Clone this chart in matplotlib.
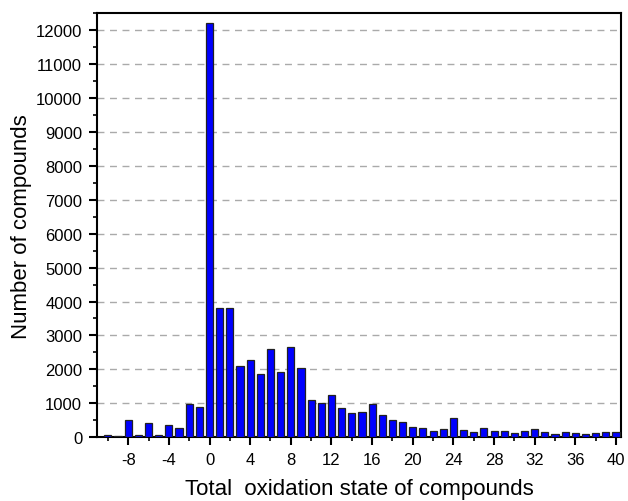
import matplotlib
matplotlib.use("Agg")
import matplotlib.pyplot as plt
from matplotlib.ticker import MultipleLocator

plt.rcParams['font.family'] = ['Liberation Sans', 'DejaVu Sans']
plt.rcParams['axes.unicode_minus'] = False

states = list(range(-10, 41))
counts = [80, 40, 505, 60, 427, 80, 370, 272, 980, 900,
          12220, 3800, 3800, 2114, 2290, 1850, 2606, 1937, 2655, 2045,
          1100, 995, 1235, 865, 700, 745, 990, 645, 510, 447,
          311, 262, 175, 252, 553, 200, 140, 262, 194, 184,
          126, 184, 233, 165, 107, 165, 117, 107, 117, 146, 146]

xlabel = "Total  oxidation state of compounds"
ylabel = "Number of compounds"

fig = plt.figure(figsize=(6.28, 5.02), dpi=100)
ax = fig.add_axes([0.154, 0.127, 0.835, 0.845])

ax.bar(states, counts, width=0.7, color='#0000ff', edgecolor='#222222', linewidth=0.9, zorder=3)

ax.set_xlim(-11.1, 40.5)
ax.set_ylim(0, 12500)
ax.xaxis.set_major_locator(MultipleLocator(4))
ax.xaxis.set_minor_locator(MultipleLocator(2))
ax.yaxis.set_major_locator(MultipleLocator(1000))
ax.yaxis.set_minor_locator(MultipleLocator(500))
ax.set_xticks(range(-8, 41, 4))

ax.tick_params(which='major', direction='out', length=5.5, width=1.5, labelsize=12, pad=5, top=False, right=False)
ax.tick_params(which='minor', direction='out', length=3, width=1.2, top=False, right=False)
for s in ax.spines.values():
    s.set_linewidth(1.5)

ax.grid(axis='y', which='major', linestyle=(0, (5, 4)), color='#aaaaaa', linewidth=1.0, zorder=0)
ax.set_axisbelow(True)

ax.set_xlabel(xlabel, fontsize=16, labelpad=8)
ax.set_ylabel(ylabel, fontsize=16, labelpad=3)

fig.savefig("out.png", dpi=100)
